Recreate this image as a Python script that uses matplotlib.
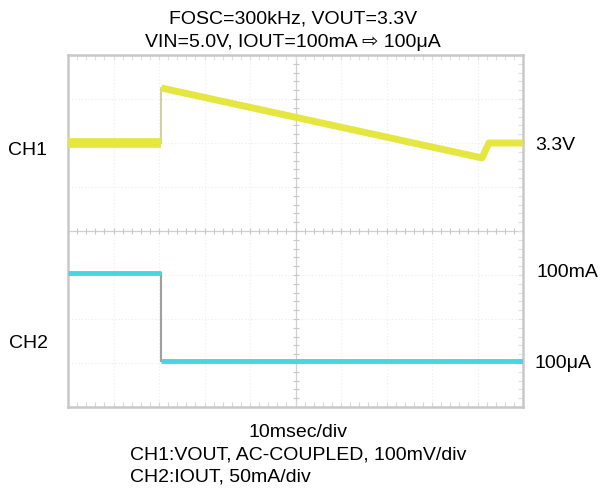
import numpy as np
import matplotlib
matplotlib.use("Agg")
import matplotlib.pyplot as plt

plt.rcParams['font.family'] = ['Liberation Sans', 'DejaVu Sans']

# scope settings
ms_per_div = 10
ch1_mv_per_div = 100
ch2_ma_per_div = 50
ch1_ref_div = 6.0    # screen position of 3.3V level
ch2_ref_div = 1.05   # screen position of 0 mA

# CH1: VOUT (AC-coupled deviation, mV)
ch1_t = [0, 20.5, 20.5, 91.0, 92.5, 100]
ch1_mv = [0, 0, 125, -34, 0, 0]

# CH2: IOUT (mA)
ch2_t = [0, 20.5, 20.5, 100]
ch2_ma = [100, 100, 0.1, 0.1]

fig = plt.figure(figsize=(6.03, 4.88), dpi=100)
ax = fig.add_axes([68/603, 81/488, 455/603, 352/488])
ax.set_xlim(0, 10)
ax.set_ylim(0, 8)
ax.set_xticks([])
ax.set_yticks([])
for s in ax.spines.values():
    s.set_color('#c8c8c8')
    s.set_linewidth(1.8)

# faint division grid
for i in range(1, 10):
    ax.axvline(i, color='#ececec', lw=0.8, ls=(0, (1, 2)), zorder=0)
for j in range(1, 8):
    ax.axhline(j, color='#ececec', lw=0.8, ls=(0, (1, 2)), zorder=0)

# center cross with minor ticks
ax.axvline(5, color='#d0d0d0', lw=0.9, zorder=0)
ax.axhline(4, color='#d0d0d0', lw=0.9, zorder=0)
xt = np.arange(0, 10.01, 0.2)
yt = np.arange(0, 8.01, 0.2)
ax.plot(xt, np.full_like(xt, 4), ls='none', marker='|', ms=5, color='#c8c8c8', mew=0.8, zorder=0)
ax.plot(np.full_like(yt, 5), yt, ls='none', marker='_', ms=5, color='#c8c8c8', mew=0.8, zorder=0)
ax.plot(xt, np.full_like(xt, 0.05), ls='none', marker='|', ms=4, color='#d8d8d8', mew=0.8, zorder=0)
ax.plot(xt, np.full_like(xt, 7.95), ls='none', marker='|', ms=4, color='#e0e0e0', mew=0.8, zorder=0)
ax.plot(np.full_like(yt, 9.95), yt, ls='none', marker='_', ms=4, color='#e0e0e0', mew=0.8, zorder=0)

# traces
x1 = np.array(ch1_t) / ms_per_div
y1 = ch1_ref_div + np.array(ch1_mv) / ch1_mv_per_div
ax.plot(x1[:2], y1[:2], color='#e6e640', lw=7, solid_capstyle='butt', zorder=3)
ax.plot(x1[1:3], y1[1:3], color='#c8c890', lw=1.2, zorder=2)
ax.plot(x1[2:], y1[2:], color='#e6e640', lw=5, solid_capstyle='butt', solid_joinstyle='round', zorder=3)

x2 = np.array(ch2_t) / ms_per_div
y2 = ch2_ref_div + np.array(ch2_ma) / ch2_ma_per_div
ax.plot(x2[:2], y2[:2], color='#48d4e0', lw=3.5, solid_capstyle='butt', zorder=3)
ax.plot(x2[1:3], y2[1:3], color='#a0a0a0', lw=1.5, zorder=2)
ax.plot(x2[2:], y2[2:], color='#48d4e0', lw=3.5, solid_capstyle='butt', zorder=3)

fs = 14


def label(x, y, s, ha='left'):
    fig.text(x/603, 1 - y/488, s, ha=ha, va='baseline', fontsize=fs)


label(293, 23, 'FOSC=300kHz, VOUT=3.3V', ha='center')
label(293, 47, 'VIN=5.0V, IOUT=100mA \u21e8 100\u03bcA', ha='center')

label(8, 155, 'CH1')
label(9, 348, 'CH2')
label(535, 150, '3.3V')
label(536, 277, '100mA')
label(534, 368, '100\u03bcA')

label(298, 437, '10msec/div', ha='center')
label(130, 460, 'CH1:VOUT, AC-COUPLED, 100mV/div')
label(130, 482, 'CH2:IOUT, 50mA/div')

fig.savefig('out.png', dpi=100)
